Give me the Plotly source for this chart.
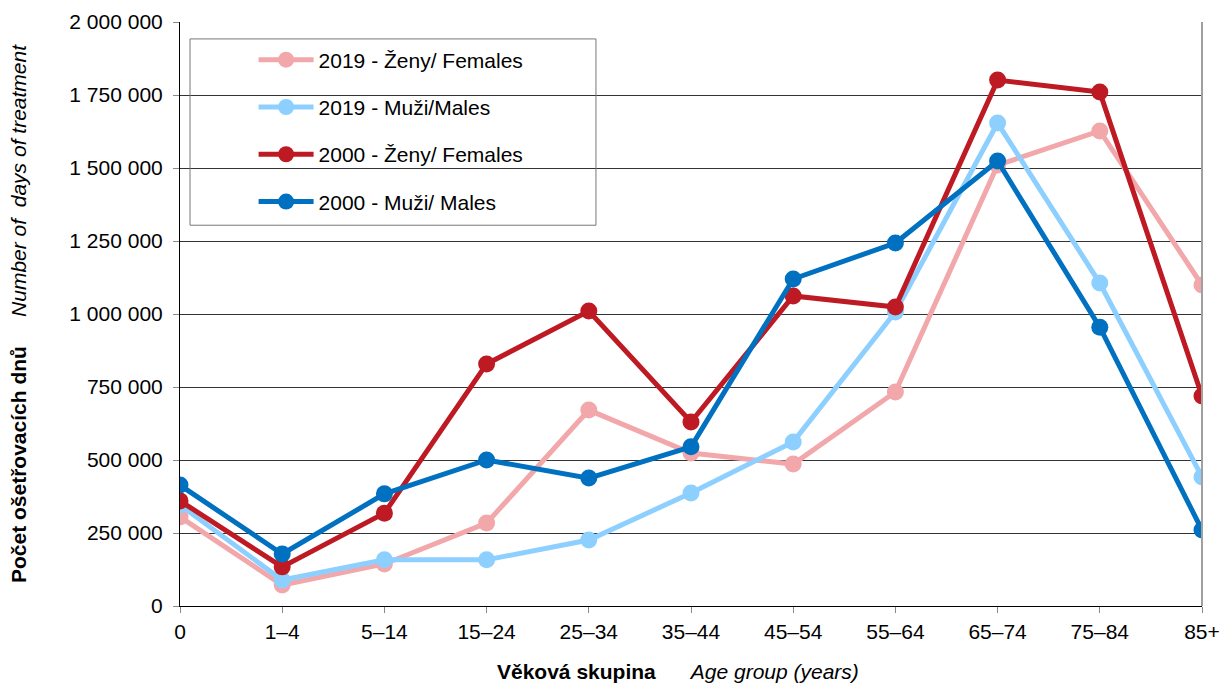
import plotly.graph_objects as go

age_groups = ["0", "1–4", "5–14", "15–24", "25–34", "35–44", "45–54", "55–64", "65–74", "75–84", "85+"]

females_2019 = [305000, 72000, 144000, 284000, 671000, 524000, 486000, 733000, 1510000, 1627000, 1099000]
males_2019 = [346000, 89000, 158000, 158000, 226000, 387000, 562000, 1007000, 1654000, 1106000, 442000]
females_2000 = [360000, 134000, 318000, 829000, 1010000, 630000, 1062000, 1024000, 1801000, 1760000, 719000]
males_2000 = [414000, 178000, 384000, 500000, 438000, 545000, 1120000, 1243000, 1524000, 955000, 260000]

series = [
    ("2019 - Ženy/ Females", females_2019, "#F2A7AB"),
    ("2019 - Muži/Males", males_2019, "#8DD0FF"),
    ("2000 - Ženy/ Females", females_2000, "#BE1A23"),
    ("2000 - Muži/ Males", males_2000, "#0070C0"),
]

y_ticks = [0, 250000, 500000, 750000, 1000000, 1250000, 1500000, 1750000, 2000000]

FONT = "Liberation Sans, Arial, sans-serif"

fig = go.Figure()
for i, (name, vals, color) in enumerate(series):
    fig.add_trace(go.Scatter(
        x=age_groups, y=vals, name=name, mode="lines+markers",
        line=dict(color=color, width=5),
        marker=dict(color=color, size=17),
        legendgroup=f"g{i}",
    ))

fig.update_layout(
    width=1220, height=684,
    margin=dict(l=180, r=18, t=22, b=78, autoexpand=False),
    paper_bgcolor="white", plot_bgcolor="white",
    separators=". ",
    font=dict(family=FONT, size=21, color="black"),
    showlegend=True,
    legend=dict(
        x=0.072, y=0.97, xanchor="left", yanchor="top",
        bgcolor="rgba(0,0,0,0)", borderwidth=0,
        font=dict(size=21, color="black"),
        itemwidth=55, tracegroupgap=17,
    ),
    xaxis=dict(
        type="category", range=[0, 10], automargin=False,
        showgrid=False, showline=True, linecolor="black", linewidth=1,
        ticks="outside", ticklen=6, tickcolor="#888888",
        tickfont=dict(size=21), ticklabelstandoff=1,
        zeroline=False,
    ),
    yaxis=dict(
        range=[0, 2000000], tickvals=y_ticks, tickformat=",d", automargin=False,
        showgrid=True, gridcolor="#333333", gridwidth=1,
        showline=True, linecolor="black", linewidth=1,
        ticks="outside", ticklen=6, tickcolor="#888888",
        tickfont=dict(size=21), ticklabelstandoff=6,
        zeroline=False,
        title=dict(
            text="<b>Počet ošetřovacích dnů</b>     <i>Number of  days of treatment</i>",
            font=dict(size=21), standoff=37,
        ),
    ),
    shapes=[
        dict(type="rect", xref="paper", yref="paper", x0=0.0098, x1=0.407, y0=0.652, y1=0.971,
             line=dict(color="#777777", width=1), fillcolor="rgba(0,0,0,0)", layer="above"),
        dict(type="line", xref="paper", yref="paper", x0=1, x1=1, y0=0, y1=1,
             line=dict(color="#A0A0A0", width=2)),
    ],
    annotations=[
        dict(text="<b>Věková skupina</b>      <i>Age group (years)</i>", xref="paper", yref="paper",
             x=0.487, y=-0.113, xanchor="center", yanchor="middle", showarrow=False,
             font=dict(size=21)),
    ],
)

fig.write_html(
    "out.html",
    config={"displayModeBar": False},
    post_script="document.body.style.margin='0';document.body.style.overflow='hidden';",
)
